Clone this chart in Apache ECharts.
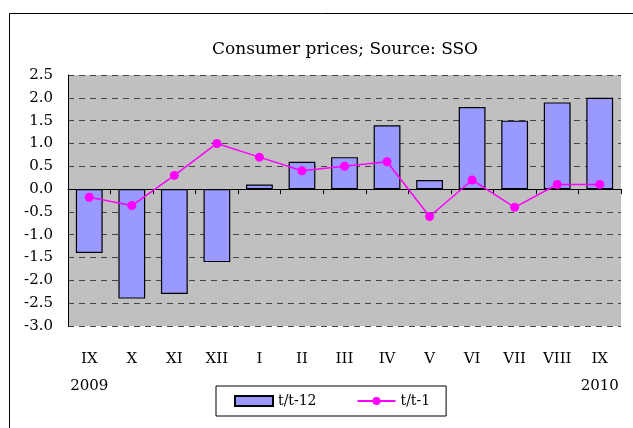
<!DOCTYPE html>
<html>
<head>
<meta charset="utf-8">
<script src="https://cdn.jsdelivr.net/npm/echarts@6/dist/echarts.min.js"></script>
<style>
html, body { margin: 0; padding: 0; background: #fff; }
#chart { width: 633px; height: 428px; }
</style>
</head>
<body>
<div id="chart"></div>
<script>
// data
var months = ['IX', 'X', 'XI', 'XII', 'I', 'II', 'III', 'IV', 'V', 'VI', 'VII', 'VIII', 'IX'];
var years = ['2009', '', '', '', '', '', '', '', '', '', '', '', '2010'];
var yoy = [-1.4, -2.4, -2.3, -1.6, 0.1, 0.6, 0.7, 1.4, 0.2, 1.8, 1.5, 1.9, 2.0];
var mom = [-0.18, -0.36, 0.3, 1.0, 0.7, 0.4, 0.5, 0.6, -0.6, 0.2, -0.4, 0.1, 0.1];

var font = 'DejaVu Serif';
var chart = echarts.init(document.getElementById('chart'));
var option = {
    backgroundColor: '#fff',
    animation: false,
    textStyle: {fontFamily: font, color: '#000'},
    title: {
        text: 'Consumer prices; Source: SSO',
        left: 207,
        top: 36,
        textStyle: {fontFamily: font, fontSize: 17, fontWeight: 'normal', color: '#000'}
    },
    graphic: [{
        type: 'rect',
        shape: {x: 9.5, y: 13.5, width: 700, height: 500},
        style: {fill: 'none', stroke: '#000', lineWidth: 1},
        silent: true
    }],
    legend: {
        left: 216,
        top: 386,
        padding: [8, 16, 8, 18],
        itemGap: 40,
        itemWidth: 38,
        itemHeight: 10,
        borderColor: '#000',
        borderWidth: 1,
        textStyle: {fontFamily: font, fontSize: 14, color: '#000'},
        data: [{name: 't/t-12', icon: 'rect'}, {name: 't/t-1'}]
    },
    grid: {
        left: 68, top: 75, right: 12, bottom: 102,
        show: true,
        backgroundColor: '#C0C0C0',
        borderWidth: 0
    },
    xAxis: [{
        type: 'category',
        data: months,
        position: 'bottom',
        axisLine: {show: false, onZero: false},
        axisTick: {show: false},
        axisLabel: {margin: 26, fontSize: 15, fontFamily: font, color: '#000'}
    }, {
        type: 'category',
        data: months,
        position: 'bottom',
        axisLine: {show: true, onZero: true, lineStyle: {color: '#000', width: 1}},
        axisTick: {show: true, length: 5, lineStyle: {color: '#000'}},
        axisLabel: {show: false}
    }, {
        type: 'category',
        data: years,
        position: 'bottom',
        axisLine: {show: false, onZero: false},
        axisTick: {show: false},
        axisLabel: {margin: 53, fontSize: 15, fontFamily: font, color: '#000', interval: 0}
    }],
    yAxis: {
        type: 'value',
        min: -3,
        max: 2.5,
        interval: 0.5,
        axisLine: {show: true, lineStyle: {color: '#000', width: 1}},
        axisTick: {show: false},
        axisLabel: {
            margin: 15, fontSize: 15, fontFamily: font, color: '#000',
            formatter: function (v) { return v.toFixed(1); }
        },
        splitLine: {show: true, lineStyle: {color: '#444', type: [6, 5], width: 1}}
    },
    series: [{
        name: 't/t-12',
        type: 'bar',
        xAxisIndex: 0,
        barCategoryGap: '37%',
        itemStyle: {color: '#9999FF', borderColor: '#000', borderWidth: 1.2},
        data: yoy
    }, {
        name: 't/t-1',
        type: 'line',
        xAxisIndex: 0,
        symbol: 'circle',
        symbolSize: 9,
        lineStyle: {color: '#FF00FF', width: 1.5},
        itemStyle: {color: '#FF00FF'},
        data: mom
    }]
};
chart.setOption(option);
</script>
</body>
</html>
